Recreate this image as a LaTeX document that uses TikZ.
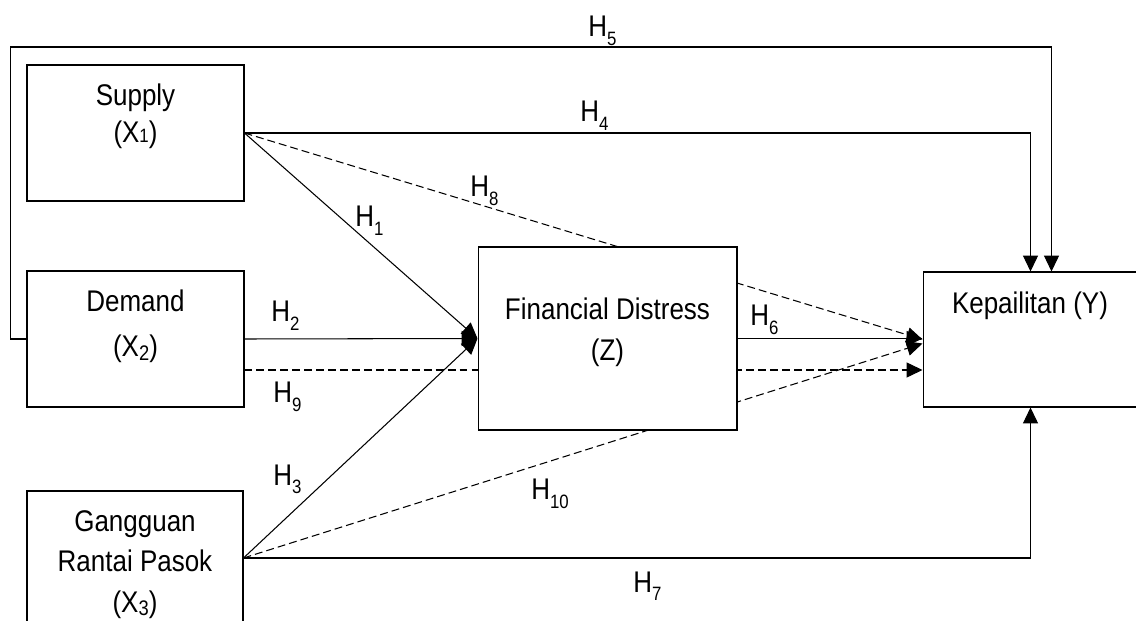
\documentclass[tikz,border=0pt]{standalone}
\usepackage{fontspec}
\setmainfont{Liberation Sans}[FakeStretch=0.87]
\usepackage{tikz}
\usetikzlibrary{arrows.meta, calc, backgrounds}
\newcommand{\hsub}[1]{\raisebox{-5pt}{\fontsize{11}{11}\selectfont #1}}
\newcommand{\xsub}[1]{\raisebox{-2pt}{\fontsize{12}{12}\selectfont #1}}

\begin{document}
\begin{tikzpicture}[
        x=0.02cm, y=-0.02cm,
        box/.style={rectangle, draw, fill=white, line width=0.6pt, inner sep=0pt},
        vartext/.style={anchor=north, align=center, inner sep=0pt},
        hlabel/.style={anchor=base west, inner sep=0pt, font=\fontsize{17}{20}\selectfont},
        link/.style={line width=0.6pt, -{Triangle[length=9pt, width=8.5pt]}},
        mediasi/.style={link, dash pattern=on 4.5pt off 2.3pt} % jalur tidak langsung
    ]
    \useasboundingbox (0,0) rectangle (1136,621);
    \clip (0,0) rectangle (1136,621);

    \node[box, minimum width=4.34cm, minimum height=2.72cm] (supply) at (135.5,133) {};
    \node[box, minimum width=4.34cm, minimum height=2.72cm] (demand) at (135.5,339) {};
    \node[box, minimum width=4.32cm, minimum height=2.68cm] (gangguan) at (135,558) {};
    \node[box, minimum width=5.18cm, minimum height=3.66cm] (fd) at (607.5,338.5) {};
    \node[box, minimum width=4.30cm, minimum height=2.70cm] (kep) at (1030.5,339.5) {};

    \node[vartext, font=\fontsize{17}{21}\selectfont] (supplytxt) at (135.5,84)
        {Supply\\(X{\fontsize{11}{11}\selectfont 1})};
    \node[vartext, font=\fontsize{17}{25.6}\selectfont] (demandtxt) at (135.5,290)
        {Demand\\(X\xsub{2})};
    \node[vartext, font=\fontsize{17}{23}\selectfont] (gangguantxt) at (135,510)
        {Gangguan\\Rantai Pasok\\(X\xsub{3})};
    \node[vartext, font=\fontsize{17}{22.8}\selectfont] (fdtxt) at (607.5,298)
        {Financial Distress\\(Z)};
    \node[vartext, font=\fontsize{17}{21}\selectfont] (keptxt) at (1030,292)
        {Kepailitan (Y)};

    \coordinate (h9a) at ($(demand.east)+(0,31)$);

    \begin{scope}[on background layer]
        \draw[mediasi] (supply.east) -- (kep.west);
        \draw[mediasi] (h9a) -- (h9a -| kep.west);
        \draw[mediasi] (gangguan.east) -- ($(kep.west)+(0,4)$);
    \end{scope}

    \draw[link] (supply.east) -- (fd.west);
    \draw[link] (demand.east) -- (fd.west);
    \draw[link] (gangguan.east) -- (fd.west);
    \draw[link] (fd.east) -- (fd.east -| kep.west);
    \draw[link] (supply.east) -| (kep.north);
    \draw[link] (gangguan.east) -| (kep.south);
    \draw[link] (demand.west) -- ++(-16,0) |- (1051.5,47) -- ($(kep.north)+(21,0)$);

    \node[hlabel] (lh1) at (355,227) {H\hsub{1}};
    \node[hlabel] (lh2) at (271,322) {H\hsub{2}};
    \node[hlabel] (lh3) at (273,485) {H\hsub{3}};
    \node[hlabel] (lh4) at (580,122) {H\hsub{4}};
    \node[hlabel] (lh5) at (588,37) {H\hsub{5}};
    \node[hlabel] (lh6) at (750,326) {H\hsub{6}};
    \node[hlabel] (lh7) at (633,592) {H\hsub{7}};
    \node[hlabel] (lh8) at (470,197) {H\hsub{8}};
    \node[hlabel] (lh9) at (273,403) {H\hsub{9}};
    \node[hlabel] (lh10) at (531,500) {H\hsub{10}};
\end{tikzpicture}
\end{document}
